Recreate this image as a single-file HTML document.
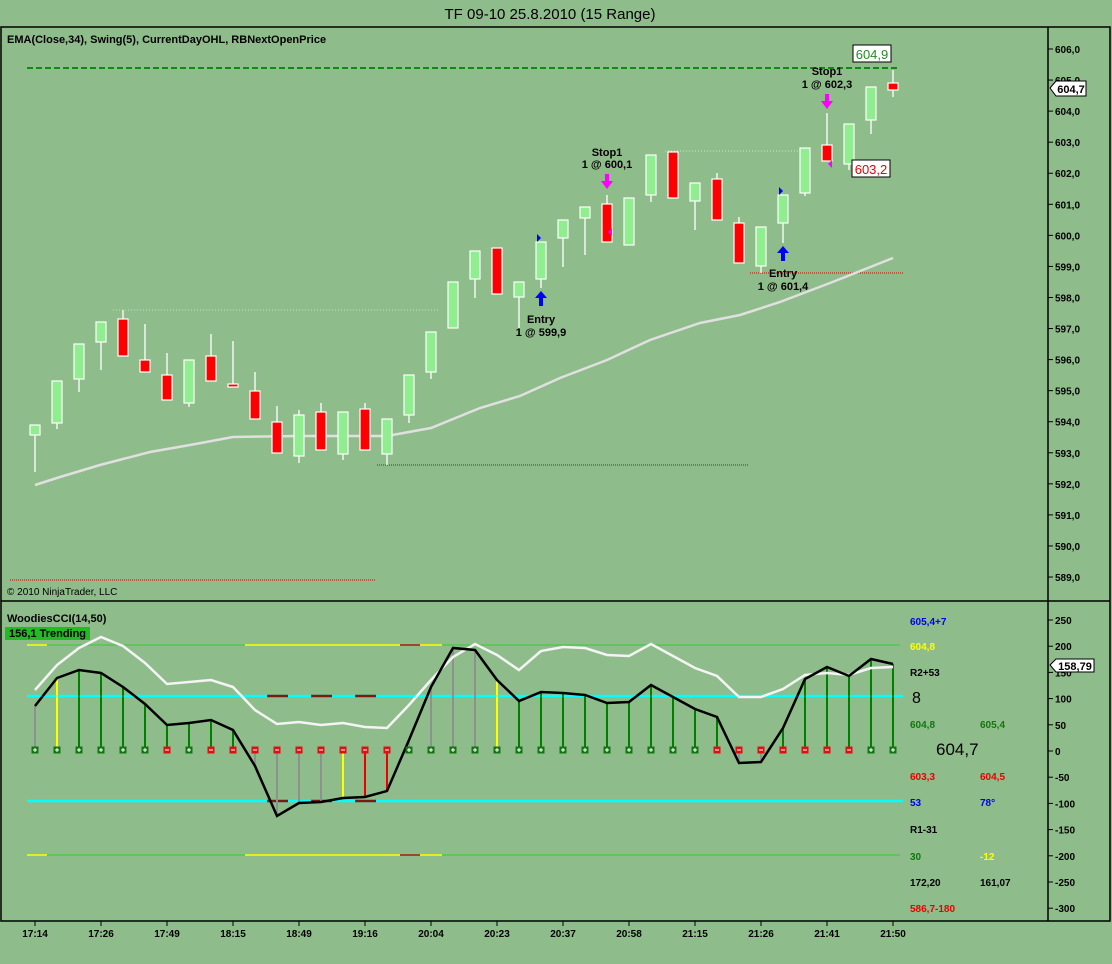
<!DOCTYPE html>
<html><head><meta charset="utf-8"><style>
body{margin:0;width:1112px;height:964px;background:#8fbc8b;overflow:hidden;font-family:"Liberation Sans",sans-serif}
svg{position:absolute;left:0;top:0}
text{font-family:"Liberation Sans",sans-serif}
</style></head><body>
<svg id="s" width="1112" height="964" viewBox="0 0 1112 964" xmlns="http://www.w3.org/2000/svg">
<rect width="1112" height="964" fill="#8fbc8b"/>
<text x="550" y="19" font-size="15" text-anchor="middle" fill="#000">TF 09-10  25.8.2010 (15 Range)</text>
<rect x="1" y="27" width="1109" height="894" fill="none" stroke="#000" stroke-width="1.5"/>
<line x1="1" y1="601" x2="1110" y2="601" stroke="#000" stroke-width="1.5"/>
<line x1="1048" y1="27" x2="1048" y2="921" stroke="#000" stroke-width="1.5"/>
<text x="7" y="43" font-size="11" font-weight="bold" fill="#000">EMA(Close,34), Swing(5), CurrentDayOHL, RBNextOpenPrice</text>
<text x="7" y="595" font-size="10" fill="#000">© 2010 NinjaTrader, LLC</text>
<line x1="27" y1="68" x2="900" y2="68" stroke="#118a11" stroke-width="2" stroke-dasharray="6,3"/>
<line x1="113" y1="310" x2="440" y2="310" stroke="#cde8c0" stroke-width="1" stroke-dasharray="1,2"/>
<line x1="665" y1="151" x2="800" y2="151" stroke="#cde8c0" stroke-width="1" stroke-dasharray="1,2"/>
<line x1="377" y1="465" x2="748" y2="465" stroke="#c00" stroke-width="1" stroke-dasharray="1,1"/>
<line x1="750" y1="273" x2="903" y2="273" stroke="#c00" stroke-width="1" stroke-dasharray="1,1"/>
<line x1="10" y1="580" x2="376" y2="580" stroke="#c00" stroke-width="1" stroke-dasharray="1,1"/>
<polyline fill="none" stroke="#e0e0e0" stroke-width="2.5" points="35,485 60,477 100,465 150,452 190,445 233,437 300,436 387,436 431,428 480,408 520,396 560,378 607,360 650,340 700,323 740,315 780,302 830,283 893,258"/>
<g id="candles"></g>
<g id="cci"></g>
<g id="ax"></g>
<!-- annotations -->
<g font-size="11" font-weight="bold" fill="#000" text-anchor="middle">
<text x="607" y="156">Stop1</text><text x="607" y="168">1 @ 600,1</text>
<text x="827" y="75">Stop1</text><text x="827" y="88">1 @ 602,3</text>
<text x="541" y="323">Entry</text><text x="541" y="336">1 @ 599,9</text>
<text x="783" y="277">Entry</text><text x="783" y="290">1 @ 601,4</text>
</g>
<g fill="#0000ff">
<rect x="539" y="297" width="4" height="9"/><polygon points="535,298 541,291 547,298"/>
<rect x="781" y="252" width="4" height="9"/><polygon points="777,253 783,246 789,253"/>
<polygon points="537,234 537,242 541,238"/><polygon points="779,187 779,195 783,191"/>
</g>
<g fill="#ff00ff">
<rect x="605" y="174" width="4" height="8"/><polygon points="601,181 607,189 613,181"/>
<rect x="825" y="94" width="4" height="8"/><polygon points="821,101 827,109 833,101"/>
<polygon points="612,228 608,232 612,236"/><polygon points="832,160 828,164 832,168"/>
</g>
<rect x="853" y="45" width="38" height="17" fill="#fff" stroke="#000"/>
<text x="872" y="59" font-size="13" text-anchor="middle" fill="#228b22">604,9</text>
<rect x="852" y="160" width="38" height="17" fill="#fff" stroke="#000"/>
<text x="871" y="174" font-size="13" text-anchor="middle" fill="#e00">603,2</text>
<polygon points="1050,88 1056,81 1086,81 1086,96 1056,96" fill="#fff" stroke="#000"/>
<text x="1071" y="93" font-size="11" font-weight="bold" text-anchor="middle" fill="#000">604,7</text>
<text x="7" y="622" font-size="11" font-weight="bold" fill="#000">WoodiesCCI(14,50)</text>
<rect x="5" y="627" width="85" height="13" fill="#22bb22"/>
<text x="9" y="637" font-size="11" font-weight="bold" fill="#000">156,1 Trending</text>
<polygon points="1050,665 1056,659 1094,659 1094,672 1056,672" fill="#fff" stroke="#000"/>
<text x="1075" y="670" font-size="11" font-weight="bold" text-anchor="middle" fill="#000">158,79</text>
<g font-size="10" font-weight="bold">
<text x="910" y="625" fill="#0000ee">605,4+7</text>
<text x="910" y="650" fill="#ffff00">604,8</text>
<text x="910" y="676" fill="#000">R2+53</text>
<text x="910" y="728" fill="#117711">604,8</text><text x="980" y="728" fill="#117711">605,4</text>
<text x="910" y="780" fill="#e00">603,3</text><text x="980" y="780" fill="#e00">604,5</text>
<text x="910" y="806" fill="#0000ee">53</text><text x="980" y="806" fill="#0000ee">78°</text>
<text x="910" y="833" fill="#000">R1-31</text>
<text x="910" y="860" fill="#117711">30</text><text x="980" y="860" fill="#ffff00">-12</text>
<text x="910" y="886" fill="#000">172,20</text><text x="980" y="886" fill="#000">161,07</text>
<text x="910" y="912" fill="#e00">586,7-180</text>
</g>
<text x="912" y="703" font-size="16" fill="#000">8</text>
<text x="936" y="755" font-size="17" fill="#000">604,7</text>
</svg>
<script>
const NS="http://www.w3.org/2000/svg";
function el(p,t,a){const e=document.createElementNS(NS,t);for(const k in a)e.setAttribute(k,a[k]);document.getElementById(p).appendChild(e);return e;}
// x, bodyTop, bodyBottom, wickTop, wickBottom, color(g/r)
const C=[[425,435,425,472,'g'],[381,423,381,429,'g'],[344,379,344,392,'g'],[322,342,322,370,'g'],[319,356,310,356,'r'],[360,372,324,372,'r'],[375,400,353,400,'r'],[360,403,360,407,'g'],[356,381,334,381,'r'],[384,387,341,387,'r'],
[391,419,372,419,'r'],[422,453,406,453,'r'],[415,456,410,463,'g'],[412,450,403,450,'r'],[412,454,412,460,'g'],[409,450,403,450,'r'],[419,454,419,465,'g'],[375,415,375,423,'g'],[332,372,332,379,'g'],[282,328,282,328,'g'],
[251,279,251,298,'g'],[248,294,248,294,'r'],[282,297,282,328,'g'],[242,279,242,288,'g'],[220,238,220,267,'g'],[207,218,207,255,'g'],[204,242,195,242,'r'],[198,245,198,245,'g'],[155,195,155,202,'g'],[152,198,152,198,'r'],
[183,201,183,230,'g'],[179,220,173,220,'r'],[223,263,217,263,'r'],[227,266,227,273,'g'],[195,223,195,243,'g'],[148,193,148,196,'g'],[145,161,113,161,'r'],[124,164,124,170,'g'],[87,120,87,134,'g'],[83,90,70,97,'r']];
C.forEach((c,i)=>{const x=35+22*i;
el('candles','line',{x1:x,y1:c[2],x2:x,y2:c[3],stroke:'#fff','stroke-width':1.3});
el('candles','rect',{x:x-5,y:c[0],width:10,height:Math.max(c[1]-c[0],2),fill:c[4]=='g'?'#90ee90':'#ff0000',stroke:'#fff','stroke-width':1.2});});
// CCI
el('cci','line',{x1:27,y1:645,x2:900,y2:645,stroke:'#3c3','stroke-width':1});
el('cci','line',{x1:27,y1:855,x2:900,y2:855,stroke:'#3c3','stroke-width':1});
[[27,47,'#ff0'],[245,400,'#ff0'],[400,420,'#a02010'],[420,442,'#ff0']].forEach(s=>{[645,855].forEach(y=>el('cci','line',{x1:s[0],y1:y,x2:s[1],y2:y,stroke:s[2],'stroke-width':1.5}))});
[696,801].forEach(y=>{el('cci','line',{x1:27,y1:y,x2:903,y2:y,stroke:'#00ffff','stroke-width':2.5});
[267,311,355].forEach(x=>el('cci','line',{x1:x,y1:y,x2:x+21,y2:y,stroke:'#7a1a10','stroke-width':2.5}))});
const B=[706,678,670,673,687,704,725,723,720,730,766,816,803,802,798,797,791,740,687,648,650,680,701,692,693,695,703,702,685,697,709,717,763,762,728,679,667,676,659,664];
const W=[690,665,648,637,646,663,684,682,680,687,710,724,722,725,723,727,728,705,680,657,644,655,670,651,647,648,655,656,644,656,668,676,697,697,689,675,673,675,668,667];
const HC="a y g g g g g g g g a a a a y r r a a a a y g g g g g g g g g g a a g g g g g g".split(' ');
const col={a:'#909090',y:'#ffff00',g:'#008000',r:'#ee0000'};
const MK="g g g g g g r g r r r r r r r r r g g g g g g g g g g g g g g r r r r r r r g g".split(' ');
B.forEach((v,i)=>{const x=35+22*i;el('cci','line',{x1:x,y1:750,x2:x,y2:v,stroke:col[HC[i]],'stroke-width':2});});
el('cci','polyline',{points:W.map((v,i)=>(35+22*i)+','+v).join(' '),fill:'none',stroke:'#f4f4f4','stroke-width':2.5});
el('cci','polyline',{points:B.map((v,i)=>(35+22*i)+','+v).join(' '),fill:'none',stroke:'#000','stroke-width':2.5});
MK.forEach((m,i)=>{const x=35+22*i;el('cci','rect',{x:x-3.5,y:746.5,width:7,height:7,fill:m=='g'?'#117711':'#dd1111'});
el('cci','line',{x1:x-2,y1:750,x2:x+2,y2:750,stroke:'#fff','stroke-width':1});
if(m=='g')el('cci','line',{x1:x,y1:748,x2:x,y2:752,stroke:'#fff','stroke-width':1});});
// axes
for(let p=606;p>=589;p--){const y=49+(606-p)*31.06;el('ax','line',{x1:1048,y1:y,x2:1053,y2:y,stroke:'#000'});
const t=el('ax','text',{x:1055,y:y+4,'font-size':10,'font-weight':'bold',fill:'#000'});t.textContent=p+',0';}
for(let k=0;k<12;k++){const v=250-50*k,y=620+k*26.2;el('ax','line',{x1:1048,y1:y,x2:1053,y2:y,stroke:'#000'});
const t=el('ax','text',{x:1055,y:y+4,'font-size':10,'font-weight':'bold',fill:'#000'});t.textContent=v;}
"17:14 17:26 17:49 18:15 18:49 19:16 20:04 20:23 20:37 20:58 21:15 21:26 21:41 21:50".split(' ').forEach((l,i)=>{const x=35+66*i;
el('ax','line',{x1:x,y1:921,x2:x,y2:926,stroke:'#000'});
const t=el('ax','text',{x:x,y:937,'font-size':10,'font-weight':'bold','text-anchor':'middle',fill:'#000'});t.textContent=l;});
</script>
</body></html>
